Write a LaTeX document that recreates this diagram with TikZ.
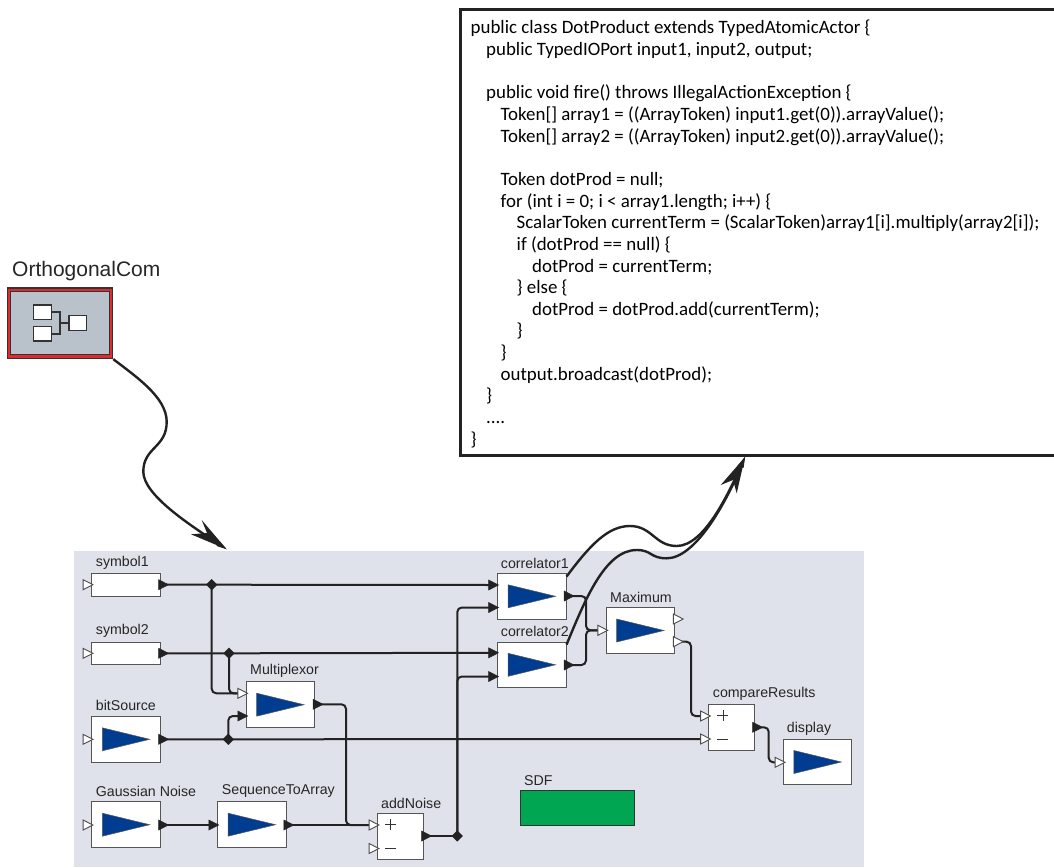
\documentclass[tikz,border=0pt]{standalone}
\usepackage{fontspec}
\setmainfont{Liberation Sans}
\newfontfamily\codefont{Carlito}
\usetikzlibrary{arrows.meta,shapes.geometric}
\definecolor{bgc}{HTML}{DFE2EA}
\definecolor{bluec}{HTML}{003C8F}
\definecolor{greenc}{HTML}{00A651}
\definecolor{wirec}{HTML}{222222}
\definecolor{edgec}{HTML}{555555}
\definecolor{compc}{HTML}{B9C2CB}
\definecolor{redc}{HTML}{DE2A2E}
\tikzset{
  abox/.style={draw=edgec,line width=0.9pt,fill=white,inner sep=0,minimum width=68.6pt,minimum height=45.6pt},
  sbox/.style={abox,minimum height=22.7pt},
  sumbox/.style={abox,minimum width=46pt,minimum height=46pt},
  lab/.style={anchor=base west,inner sep=0,font=\fontsize{14.2}{16}\selectfont,text=black!85},
  wire/.style={draw=wirec,line width=2pt,rounded corners=4.5pt},
  junc/.style={diamond,fill=wirec,inner sep=0,minimum size=11.5pt},
  big/.style={draw=wirec,line width=2.4pt,-{Stealth[length=22pt,width=12pt,inset=12pt]}},
  bighead/.style={fill=wirec},
  iconbox/.style={draw=black!80,line width=1.3pt,fill=white},
  white port/.pic={\draw[black!70,line width=0.9pt,fill=white] (-4.9,-5)--(4.9,0)--(-4.9,5)--cycle;},
  black port/.pic={\draw[wirec,line width=0.6pt,fill=wirec] (-4.9,-5)--(4.9,0)--(-4.9,5)--cycle;},
  arrowmark/.pic={\draw[edgec,line width=0.5pt,fill=bluec] (-23.7,-11.5)--(23.7,0)--(-23.7,11.5)--cycle;}
}
\begin{document}
\begin{tikzpicture}[x=1pt,y=-1pt]
\useasboundingbox (0,0) rectangle (1054,867);
% code panel
\draw[wirec,line width=3pt] (1060,9.5) -- (460,9.5) -- (460,455.7) -- (1060,455.7);
\node[anchor=north west,inner sep=0,align=left,font=\codefont\fontsize{18.9}{21.65}\selectfont,text=black] (code) at (470.5,20) {%
public class DotProduct extends TypedAtomicActor \{\\
\hspace*{15.5pt}public TypedIOPort input1, input2, output;\\
~\\
\hspace*{15.5pt}public void fire() throws IllegalActionException \{\\
\hspace*{30pt}Token[] array1 = ((ArrayToken) input1.get(0)).arrayValue();\\
\hspace*{30pt}Token[] array2 = ((ArrayToken) input2.get(0)).arrayValue();\\
~\\
\hspace*{30pt}Token dotProd = null;\\
\hspace*{30pt}for (int i = 0; i < array1.length; i++) \{\\
\hspace*{46pt}ScalarToken currentTerm = (ScalarToken)array1[i].multiply(array2[i]);\\
\hspace*{46pt}if (dotProd == null) \{\\
\hspace*{61.5pt}dotProd = currentTerm;\\
\hspace*{46pt}\} else \{\\
\hspace*{61.5pt}dotProd = dotProd.add(currentTerm);\\
\hspace*{46pt}\}\\
\hspace*{30pt}\}\\
\hspace*{30pt}output.broadcast(dotProd);\\
\hspace*{15.5pt}\}\\
\hspace*{15.5pt}....\\
\}};
% model background
\fill[bgc] (74,551) rectangle (864,866.6);
% composite actor
\node[lab,font=\fontsize{21}{24}\selectfont] (olabel) at (12,276) {OrthogonalCom};
\node[draw=black!80,line width=1.5pt,fill=redc,inner sep=0,minimum width=105pt,minimum height=70.5pt] (O) at (60,323.1) {};
\draw[black!80,line width=1.2pt,fill=compc] (10.8,291.5) rectangle (109.2,354.7);
\node[iconbox,inner sep=0,minimum width=18.4pt,minimum height=14.3pt] (ia) at (42.5,312.1) {};
\node[iconbox,inner sep=0,minimum width=18.4pt,minimum height=14.3pt] (ib) at (42.5,333.9) {};
\node[iconbox,inner sep=0,minimum width=17.7pt,minimum height=14.6pt] (ic) at (77.9,323) {};
\draw[black!80,line width=1.3pt] (ia.east) -| (60,323) |- (ib.east) (60,323) -- (ic.west);
% actors
\node[sbox] (s1) at (126,584.7) {};
\node[sbox] (s2) at (126,653.3) {};
\node[abox] (bit) at (126,739.3) {};
\node[abox] (gauss) at (126,824.7) {};
\node[abox] (seq) at (251.8,824.7) {};
\node[abox] (mux) at (280.3,704.7) {};
\node[sumbox] (add) at (400.3,836.3) {};
\node[abox] (c1) at (531.8,596.3) {};
\node[abox] (c2) at (531.8,664.8) {};
\node[abox] (max) at (640.3,630.5) {};
\node[sumbox] (cmp) at (731.7,727.8) {};
\node[abox] (disp) at (817.6,762) {};
\node[draw=black!80,line width=0.9pt,fill=greenc,inner sep=0,minimum width=114.4pt,minimum height=34.3pt] (sdf) at (577.5,807.8) {};
\foreach \n in {bit,gauss,seq,mux,c1,c2,max,disp}{\pic at (\n.center) {arrowmark};}
% sum glyphs
\draw[black!80,line width=0.6pt] (385.2,824.3) -- (396.2,824.3) (390.7,818.8) -- (390.7,829.8) (385,848.7) -- (396,848.7);
\draw[black!80,line width=0.6pt] (717.4,715.7) -- (728.4,715.7) (722.9,710.2) -- (722.9,721.2) (717.3,739.3) -- (728.3,739.3);
% labels
\node[lab] (l1) at (95.7,566) {symbol1};
\node[lab] (l2) at (95.7,634.3) {symbol2};
\node[lab] (l3) at (95.7,710.7) {bitSource};
\node[lab] (l4) at (95.7,796) {Gaussian Noise};
\node[lab] (l5) at (221.7,794.7) {SequenceToArray};
\node[lab] (l6) at (250,674.3) {Multiplexor};
\node[lab] (l7) at (381,808) {addNoise};
\node[lab] (l8) at (500.7,568.3) {correlator1};
\node[lab] (l9) at (500.7,636.7) {correlator2};
\node[lab] (l10) at (610,602.3) {Maximum};
\node[lab] (l11) at (712.7,697.3) {compareResults};
\node[lab] (l12) at (786.7,732) {display};
\node[lab] (l13) at (524,785) {SDF};
% ports
\coordinate (s1i) at (88,584.7); \coordinate (s1o) at (163.5,584.7);
\coordinate (s2i) at (88,653.3); \coordinate (s2o) at (163.5,653.3);
\coordinate (biti) at (88,739.3); \coordinate (bito) at (163.5,739.3);
\coordinate (gi) at (88,825); \coordinate (go) at (163.5,825);
\coordinate (seqi) at (213.7,825); \coordinate (seqo) at (288.7,825);
\coordinate (muxa) at (242.7,693.3); \coordinate (muxb) at (242.7,716); \coordinate (muxo) at (318,704.3);
\coordinate (adda) at (374,825); \coordinate (addb) at (374,848.5); \coordinate (addo) at (426.5,836);
\coordinate (c1a) at (493.5,585); \coordinate (c1b) at (493.5,607.5); \coordinate (c1o) at (569,596);
\coordinate (c2a) at (493.5,652.8); \coordinate (c2b) at (493.5,676.5); \coordinate (c2o) at (569,665);
\coordinate (maxi) at (602.8,630.3); \coordinate (maxo) at (678.3,619); \coordinate (maxp) at (678.3,641.7);
\coordinate (cmpa) at (705.5,716); \coordinate (cmpb) at (705.5,739); \coordinate (cmpo) at (757.5,727.3);
\coordinate (dispi) at (780,762.3);
% junctions
\node[junc] (j1) at (211.7,584.7) {};
\node[junc] (j2) at (229,653.3) {};
\node[junc] (j3) at (228.3,739.3) {};
\node[junc] (j4) at (457.3,836) {};
% wires
\draw[wire] (s1o) -- (j1.center) -- (c1a);
\draw[wire] (j1.center) |- (muxa);
\draw[wire] (s2o) -- (j2.center) -- (c2a);
\draw[wire] (j2.center) |- (muxa);
\draw[wire] (bito) -- (j3.center) -- (cmpb);
\draw[wire] (j3.center) |- (muxb);
\draw[wire] (go) -- (seqi);
\draw[wire] (seqo) -- (adda);
\draw[wire] (muxo) -- ++(28,0) |- (adda);
\draw[wire] (addo) -- (j4.center);
\draw[wire] (j4.center) |- (c1b);
\draw[wire] (j4.center) |- (c2b);
\draw[wire] (c1o) -- ++(17,0) |- (maxi);
\draw[wire] (c2o) -- ++(17,0) |- (maxi);
\draw[wire] (maxp) -- ++(12.7,0) |- (cmpa);
\draw[wire] (cmpo) -- ++(11.2,0) |- (dispi);
\foreach \p in {s1i,s2i,biti,gi,muxa,adda,addb,maxi,maxo,maxp,cmpa,cmpb,dispi}{\pic at (\p) {white port};}
\foreach \p in {s1o,s2o,bito,go,seqi,seqo,muxb,muxo,addo,c1a,c1b,c1o,c2a,c2b,c2o,cmpo}{\pic at (\p) {black port};}
% long arrows
\coordinate (tipm) at (226.7,549.3);
\coordinate (tipc) at (745,457);
\draw[big] (O.south east) .. controls (135,376) and (166.7,397) .. (166.7,421.7)
  .. controls (166.7,448) and (143.3,447) .. (143.3,471.7)
  .. controls (143.3,495) and (190,525) .. (tipm);
\draw[big] ([yshift=-3.5pt]c1.north east) .. controls (590,545) and (608,526) .. (630,526)
  .. controls (652,526) and (655,546) .. (676.7,546)
  .. controls (705,546) and (730,490) .. (tipc);
\draw[big] ([yshift=-3pt]c2.north east) .. controls (585,600) and (605,550) .. (636.7,550)
  .. controls (652,550) and (650,558.3) .. (666.7,558.3)
  .. controls (695,558.3) and (725,505) .. (tipc);
\fill[bighead] (tipm) -- (201.7,520) -- (207,533) -- (191,534.3) -- cycle;
\fill[bighead] (tipc) -- (736.7,493.3) -- (733,480) -- (720.7,485) -- cycle;
\end{tikzpicture}
\end{document}
